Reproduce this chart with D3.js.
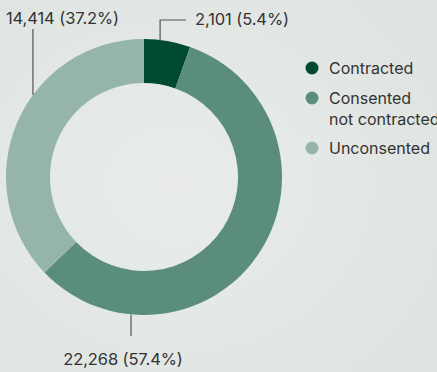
<!DOCTYPE html>
<html><head><meta charset="utf-8">
<script src="https://cdn.jsdelivr.net/npm/d3@7"></script>
<style>
html,body{margin:0;padding:0;}
body{width:437px;height:372px;overflow:hidden;background:#e2e7e5;}
text{font-family:Inter,"Noto Sans",sans-serif;}
</style></head>
<body>
<svg id="c" width="437" height="372"></svg>
<script>
const categories = ["Contracted", "Consented not contracted", "Unconsented"];
const legendLines = [["Contracted"], ["Consented", "not contracted"], ["Unconsented"]];
const values = [2101, 22268, 14414];
const labels = ["2,101 (5.4%)", "22,268 (57.4%)", "14,414 (37.2%)"];
const colors = ["#004a33", "#5b8d7f", "#95b5ab"];

const svg = d3.select("#c");
const defs = svg.append("defs");
const g0 = defs.append("radialGradient").attr("id","bg").attr("cx","40%").attr("cy","50%").attr("r","70%");
g0.append("stop").attr("offset","0%").attr("stop-color","#e9eceb");
g0.append("stop").attr("offset","100%").attr("stop-color","#dee4e1");
svg.append("rect").attr("width",437).attr("height",372).attr("fill","url(#bg)");

const cx = 144, cy = 177, R = 138, r = 94;
const pie = d3.pie().sort(null).value(d => d);
const arcs = pie(values);
const arc = d3.arc().innerRadius(r).outerRadius(R);
const g = svg.append("g").attr("transform", `translate(${cx},${cy})`);
g.selectAll("path").data(arcs).enter().append("path")
  .attr("d", arc).attr("fill", (d,i) => colors[i]);

// leader lines (angles in degrees clockwise from top)
const leaders = [
  {ang: 6.7, path: (x,y) => [[x,y],[x,20-cy],[186-cx,20-cy]], tx: 195, ty: 25, anchor: "start"},
  {ang: 185.4, path: (x,y) => [[x,y],[x,336-cy]], tx: 123, ty: 365, anchor: "middle"},
  {ang: 306.4, path: (x,y) => [[x,y],[x,29-cy]], tx: 6, ty: 24, anchor: "start"}
];
const line = d3.line();
leaders.forEach((L,i) => {
  const a = L.ang * Math.PI/180;
  const x = R*Math.sin(a), y = -R*Math.cos(a);
  g.append("path").attr("d", line(L.path(x,y))).attr("fill","none")
    .attr("stroke","#555").attr("stroke-width",1.2);
  svg.append("text").attr("x",L.tx).attr("y",L.ty).attr("text-anchor",L.anchor)
    .attr("font-size",16.5).attr("fill","#333").attr("letter-spacing","-0.1")
    .text(labels[i]);
});

// legend
const legY = [68, 98, 148];
categories.forEach((c,i) => {
  svg.append("circle").attr("cx",312).attr("cy",legY[i]).attr("r",6.5).attr("fill",colors[i]);
  const t = svg.append("text").attr("x",329).attr("y",legY[i]+6)
    .attr("font-size",16).attr("fill","#333");
  legendLines[i].forEach((s,j) => {
    t.append("tspan").attr("x",329).attr("dy", j===0?0:21).text(s);
  });
});
</script>
</body></html>
